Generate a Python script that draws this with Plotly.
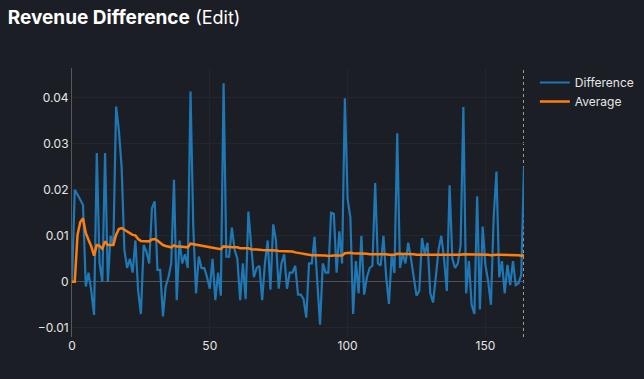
import plotly.graph_objects as go

index = list(range(165))

difference = [
    0.0, 0.020, 0.019, 0.018, 0.0167, -0.001, 0.002, -0.002, -0.0072, 0.028,
    0.004, 0.0, 0.028, 0.0, 0.010, 0.008, 0.0381, 0.033, 0.025, 0.007,
    0.003, 0.005, 0.002, 0.009, -0.002, -0.007, 0.008, 0.0066, 0.004, 0.016,
    0.0175, 0.0026, 0.0026, -0.0075, -0.001, 0.001, 0.004, 0.0222, -0.004, 0.009,
    0.004, 0.006, 0.003, 0.0414, 0.012, -0.0025, 0.0055, 0.003, 0.003, 0.001,
    -0.0015, 0.005, -0.004, 0.002, -0.003, 0.0432, 0.0055, 0.0055, 0.0118, 0.007,
    0.005, -0.004, 0.004, -0.0038, 0.0153, 0.008, 0.001, 0.003, 0.0035, -0.004,
    0.004, 0.009, -0.0017, 0.0125, 0.009, -0.0015, 0.004, 0.006, -0.0015, 0.002,
    0.002, 0.0035, -0.0028, -0.0028, -0.0037, -0.0078, 0.004, 0.004, 0.0098, 0.0,
    -0.0093, 0.004, 0.002, 0.002, 0.015, 0.0148, 0.002, 0.011, 0.004, 0.0399,
    0.018, 0.014, -0.007, 0.0045, -0.0025, 0.010, -0.0028, 0.001, 0.003, 0.0035,
    0.0215, 0.004, 0.0035, 0.010, 0.001, -0.0048, 0.006, 0.0019, 0.0323, 0.003,
    0.006, 0.004, 0.0085, 0.005, 0.001, -0.003, -0.002, 0.0095, 0.006, 0.0085,
    -0.0025, -0.0045, 0.001, 0.007, 0.010, 0.005, -0.002, 0.021, 0.005, 0.003,
    0.004, 0.008, 0.038, -0.0025, 0.0045, -0.005, -0.007, 0.0186, -0.006, 0.012,
    0.0037, 0.0001, -0.005, 0.014, 0.024, 0.001, 0.0045, -0.0025, 0.0037, -0.0007,
    0.0045, -0.0007, -0.0003, 0.0015, 0.025,
]

average = [
    0.0, 0.0, 0.0102, 0.013, 0.0138, 0.0106, 0.0091, 0.0077, 0.0057, 0.008,
    0.0078, 0.0072, 0.0088, 0.008, 0.008, 0.008, 0.0102, 0.0115, 0.0117, 0.0113,
    0.011, 0.0106, 0.0102, 0.0101, 0.0093, 0.0089, 0.0089, 0.0088, 0.0088, 0.0092,
    0.0093, 0.009, 0.0085, 0.008, 0.0078, 0.0076, 0.0075, 0.0079, 0.0077, 0.0077,
    0.0076, 0.0076, 0.0075, 0.0083, 0.0082, 0.0081, 0.008, 0.0079, 0.0078, 0.0077,
    0.0076, 0.0075, 0.0073, 0.0072, 0.0071, 0.0077, 0.0076, 0.0075, 0.0075, 0.0075,
    0.0075, 0.0073, 0.0073, 0.0072, 0.0073, 0.0071, 0.0071, 0.007, 0.007, 0.0069,
    0.0069, 0.0068, 0.0068, 0.0068, 0.0068, 0.0067, 0.0067, 0.0067, 0.0066, 0.0066,
    0.0066, 0.0064, 0.0063, 0.0062, 0.006, 0.0059, 0.0059, 0.0058, 0.0058, 0.0058,
    0.0057, 0.0057, 0.0057, 0.0056, 0.0057, 0.0057, 0.0057, 0.0057, 0.0057, 0.0062,
    0.0063, 0.0063, 0.0062, 0.0062, 0.0061, 0.0061, 0.0061, 0.0061, 0.006, 0.006,
    0.0061, 0.0061, 0.006, 0.006, 0.006, 0.0059, 0.0059, 0.0059, 0.0061, 0.0061,
    0.006, 0.006, 0.006, 0.006, 0.006, 0.0059, 0.0059, 0.0059, 0.0059, 0.0059,
    0.0059, 0.0058, 0.0058, 0.0058, 0.0058, 0.0058, 0.0058, 0.0059, 0.0059, 0.0059,
    0.0059, 0.0059, 0.006, 0.006, 0.006, 0.0059, 0.0059, 0.0059, 0.0059, 0.0059,
    0.0059, 0.0059, 0.0058, 0.0059, 0.0059, 0.0059, 0.0059, 0.0058, 0.0058, 0.0058,
    0.0058, 0.0058, 0.0058, 0.0057, 0.0058,
]

BG = "#1b1e24"
FONT = "Inter, Roboto, sans-serif"

fig = go.Figure()
fig.add_trace(go.Scatter(x=index, y=difference, mode="lines", name="Difference",
                         line=dict(color="#1f77b4", width=2.2), cliponaxis=False))
fig.add_trace(go.Scatter(x=index, y=average, mode="lines", name="Average",
                         line=dict(color="#ff7f0e", width=2.5), cliponaxis=False))

fig.add_shape(type="line", x0=index[-1], x1=index[-1], xref="x", y0=0, y1=1, yref="paper",
              layer="below", line=dict(color="#9a9a9a", width=2, dash="3px,3px"))

fig.update_layout(
    width=644, height=379,
    paper_bgcolor=BG, plot_bgcolor=BG,
    margin=dict(l=72, r=120, t=68, b=42, autoexpand=False),
    font=dict(family=FONT, color="#e6e6e6", size=12),
    title=dict(text="<b>Revenue Difference</b> <span style='font-size:18px'>(Edit)</span>",
               x=0.012, xanchor="left",
               y=0.953, yanchor="middle", font=dict(size=19, color="#ffffff", family=FONT)),
    legend=dict(x=1.024, xanchor="left", y=1.0, yanchor="top",
                bgcolor="rgba(0,0,0,0)", font=dict(size=12, color="#e6e6e6")),
    showlegend=True,
)
fig.update_xaxes(range=[0, 164], showgrid=True, gridcolor="#23262d", zeroline=False,
                 tickvals=[0, 50, 100, 150], showline=False, ticks="",
                 tickfont=dict(color="#e6e6e6"))
fig.update_yaxes(range=[-0.012, 0.0465], showgrid=True, gridcolor="#23262d",
                 zeroline=True, zerolinecolor="#4f5258", zerolinewidth=1,
                 showline=True, linecolor="#55585e", linewidth=1,
                 tickvals=[-0.01, 0, 0.01, 0.02, 0.03, 0.04],
                 ticktext=["\u22120.01", "0", "0.01", "0.02", "0.03", "0.04"],
                 tickfont=dict(color="#e6e6e6"))

post = ("document.body.style.margin='0';document.body.style.padding='0';"
        "document.body.style.overflow='hidden';"
        "document.body.style.background='" + BG + "';")

fig.write_html("out.html", post_script=post, config={"displayModeBar": False})
